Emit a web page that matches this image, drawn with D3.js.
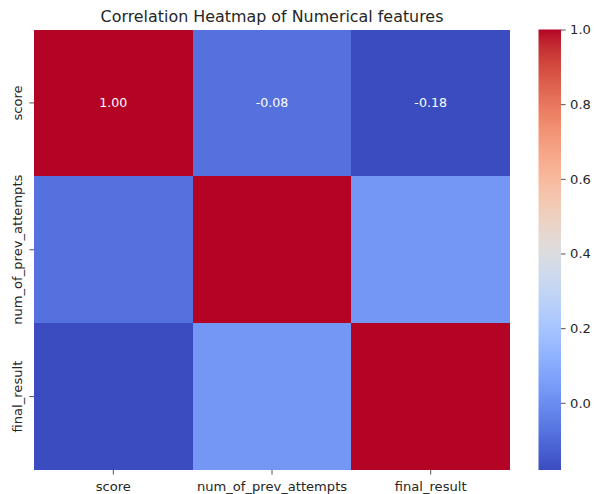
<!DOCTYPE html>
<html>
<head>
<meta charset="utf-8">
<script src="https://cdn.jsdelivr.net/npm/d3@7"></script>
<style>
  html, body { margin: 0; padding: 0; background: #fff; }
  text { font-family: "DejaVu Sans", sans-serif; fill: #262626; }
</style>
</head>
<body>
<svg id="chart" width="594" height="494"></svg>
<script>
// Feature names (rows and columns of the correlation matrix)
const features = ["score", "num_of_prev_attempts", "final_result"];

// Correlation matrix, one array per row
const rowScore = [1.00, -0.08, -0.18];
const rowAttempts = [-0.08, 1.00, 0.03];
const rowFinal = [-0.18, 0.03, 1.00];
const matrix = [rowScore, rowAttempts, rowFinal];

// Only the first row carries printed values
const annotatedRows = [0];

// Colorbar ticks
const colorbarTicks = [0.0, 0.2, 0.4, 0.6, 0.8, 1.0];

// Moreland "coolwarm" diverging map sampled at 33 evenly spaced stops
const coolwarmStops = [
  [59,76,192],[68,90,204],[77,104,215],[87,117,225],[98,130,234],[108,142,241],
  [119,154,247],[130,165,251],[141,176,254],[152,185,255],[163,194,255],[174,201,253],
  [184,208,249],[194,213,244],[204,217,238],[213,219,230],[221,221,221],[229,216,209],
  [236,211,197],[241,204,184],[245,196,172],[247,187,160],[247,177,148],[247,166,137],
  [244,154,123],[241,141,111],[236,127,99],[229,112,88],[222,96,77],[213,80,66],
  [203,62,56],[192,40,47],[180,4,38]
];
const coolwarm = d3.interpolateRgbBasis(coolwarmStops.map(c => d3.rgb(c[0], c[1], c[2])));

const svg = d3.select("#chart");

const plot = { left: 34, top: 29.5, width: 476, height: 440.5 };
const cbar = { left: 538.5, width: 22.5 };
const tickLen = 4.6;
const labelSize = "13.1px";

const allValues = matrix.flat();
const vmin = d3.min(allValues), vmax = d3.max(allValues);
const color = d3.scaleSequential(coolwarm).domain([vmin, vmax]);

const x = d3.scaleBand().domain(features).range([plot.left, plot.left + plot.width]);
const y = d3.scaleBand().domain(features).range([plot.top, plot.top + plot.height]);

// Title
svg.append("text")
  .attr("x", plot.left + plot.width / 2)
  .attr("y", 22)
  .attr("text-anchor", "middle")
  .style("font-size", "15.9px")
  .text("Correlation Heatmap of Numerical features");

// Cells
const cells = [];
matrix.forEach((row, i) => row.forEach((v, j) => cells.push({ r: features[i], c: features[j], v, i, j })));

svg.append("g").selectAll("rect").data(cells).join("rect")
  .attr("x", d => x(d.c))
  .attr("y", d => y(d.r))
  .attr("width", x.bandwidth())
  .attr("height", y.bandwidth())
  .attr("fill", d => color(d.v))
  .attr("shape-rendering", "crispEdges");

// Printed values
svg.append("g").selectAll("text")
  .data(cells.filter(d => annotatedRows.includes(d.i)))
  .join("text")
  .attr("x", d => x(d.c) + x.bandwidth() / 2)
  .attr("y", d => y(d.r) + y.bandwidth() / 2)
  .attr("text-anchor", "middle")
  .attr("dominant-baseline", "central")
  .style("font-size", "12.6px")
  .style("fill", "#ffffff")
  .text(d => d3.format(".2f")(d.v).replace("−", "-"));

// Bottom axis
const xAxis = svg.append("g")
  .attr("transform", `translate(0,${plot.top + plot.height})`)
  .call(d3.axisBottom(x).tickSize(tickLen).tickPadding(7.5));
xAxis.select(".domain").remove();
xAxis.selectAll("line").attr("stroke", "#262626").attr("stroke-width", 0.8);
xAxis.selectAll("text").style("font-size", labelSize).style("font-family", "DejaVu Sans").attr("fill", "#262626");

// Left axis with rotated labels
const yAxis = svg.append("g")
  .attr("transform", `translate(${plot.left},0)`)
  .call(d3.axisLeft(y).tickSize(tickLen).tickPadding(5));
yAxis.select(".domain").remove();
yAxis.selectAll("line").attr("stroke", "#262626").attr("stroke-width", 0.8);
yAxis.selectAll("text")
  .style("font-size", labelSize).style("font-family", "DejaVu Sans").attr("fill", "#262626")
  .attr("x", null).attr("dy", null)
  .attr("text-anchor", "middle")
  .attr("transform", "translate(-12.5,0) rotate(-90)");

// Colorbar
const cbScale = d3.scaleLinear().domain([vmin, vmax]).range([plot.top + plot.height, plot.top]);
const gradId = "cbgrad";
const grad = svg.append("defs").append("linearGradient")
  .attr("id", gradId).attr("x1", "0").attr("y1", "1").attr("x2", "0").attr("y2", "0");
d3.range(0, 1.0001, 1 / 64).forEach(t => {
  grad.append("stop").attr("offset", t).attr("stop-color", coolwarm(t));
});
svg.append("rect")
  .attr("x", cbar.left).attr("y", plot.top)
  .attr("width", cbar.width).attr("height", plot.height)
  .attr("fill", `url(#${gradId})`);

const cbAxis = svg.append("g")
  .attr("transform", `translate(${cbar.left + cbar.width},0)`)
  .call(d3.axisRight(cbScale).tickValues(colorbarTicks).tickFormat(d3.format(".1f")).tickSize(tickLen).tickPadding(4.5));
cbAxis.select(".domain").remove();
cbAxis.selectAll("line").attr("stroke", "#262626").attr("stroke-width", 0.8);
cbAxis.selectAll("text").style("font-size", labelSize).style("font-family", "DejaVu Sans").attr("fill", "#262626");
</script>
</body>
</html>
